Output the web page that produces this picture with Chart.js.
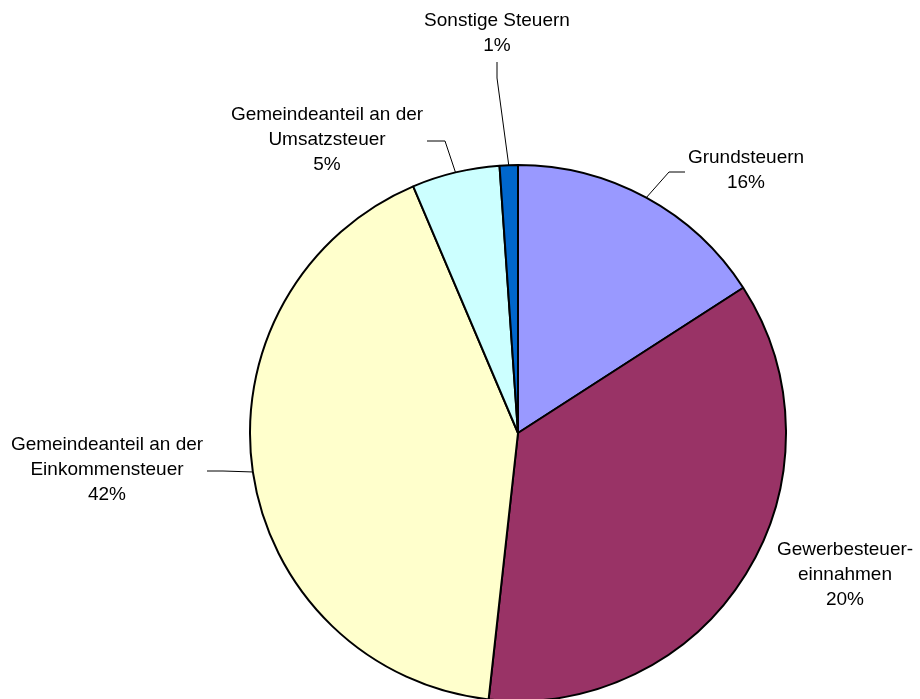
<!DOCTYPE html>
<html>
<head>
<meta charset="utf-8">
<script src="https://cdn.jsdelivr.net/npm/chart.js@4/dist/chart.umd.min.js"></script>
<style>
  html, body { margin: 0; padding: 0; background: #fff; }
  #wrap { width: 920px; height: 699px; }
</style>
</head>
<body>
<div id="wrap"><canvas id="myChart" width="920" height="699"></canvas></div>
<script>
/* ===== DATA ===== */
const categories = [
    ['Grundsteuern'],
    ['Gewerbesteuer-', 'einnahmen'],
    ['Gemeindeanteil an der', 'Einkommensteuer'],
    ['Gemeindeanteil an der', 'Umsatzsteuer'],
    ['Sonstige Steuern'],
];
// slice sizes
const shares = [15.9, 35.9, 41.9, 5.3, 1.1];
// percentages as printed on the labels
const percentLabels = ['16%', '20%', '42%', '5%', '1%'];

const sliceColors = ['#9999FF', '#993366', '#FFFFCC', '#CCFFFF', '#0066CC'];

/* ===== LABEL LAYOUT (text centre of first line, leader stub) ===== */
const labelLayout = [
    { x: 746, y: 158, leader: [[685, 172], [669, 172]] },
    { x: 845, y: 550, leader: null },
    { x: 107, y: 445, leader: [[207, 471], [223, 471]] },
    { x: 327, y: 115, leader: [[427, 141], [445, 141]] },
    { x: 497, y: 21, leader: [[497, 62], [497, 78]] },
];

const labelPlugin = {
    id: 'pieLabels',
    afterDraw(chart) {
        const ctx = chart.ctx;
        const arcs = chart.getDatasetMeta(0).data;
        ctx.save();
        ctx.font = '19px "Liberation Sans", Arial, sans-serif';
        ctx.fillStyle = '#000';
        ctx.textAlign = 'center';
        ctx.textBaseline = 'middle';
        arcs.forEach((arc, i) => {
            const lay = labelLayout[i];
            const lines = categories[i].concat([percentLabels[i]]);
            lines.forEach((t, k) => ctx.fillText(t, lay.x, lay.y + k * 25));

            if (lay.leader) {
                const p = arc.getProps(['x', 'y', 'startAngle', 'endAngle', 'outerRadius'], true);
                const mid = (p.startAngle + p.endAngle) / 2;
                const px = p.x + Math.cos(mid) * p.outerRadius;
                const py = p.y + Math.sin(mid) * p.outerRadius;
                ctx.beginPath();
                ctx.moveTo(lay.leader[0][0], lay.leader[0][1]);
                ctx.lineTo(lay.leader[1][0], lay.leader[1][1]);
                ctx.lineTo(px, py);
                ctx.strokeStyle = '#000';
                ctx.lineWidth = 1;
                ctx.stroke();
            }
        });
        ctx.restore();
    }
};

/* ===== Chart JS ===== */
var myChart = document.getElementById('myChart').getContext('2d');

var pieChart = new Chart(myChart, {
    type: 'pie',
    data: {
        labels: categories.map(c => c.join(' ')),
        datasets: [{
            data: shares,
            backgroundColor: sliceColors,
            borderColor: '#000',
            borderWidth: 2,
            hoverOffset: 0,
        }],
    },
    options: {
        responsive: false,
        animation: false,
        radius: 268,
        layout: {
            padding: { left: 116, right: 0, top: 167, bottom: 0 }
        },
        plugins: {
            legend: { display: false },
            tooltip: { enabled: false },
        }
    },
    plugins: [labelPlugin]
});
</script>
</body>
</html>
